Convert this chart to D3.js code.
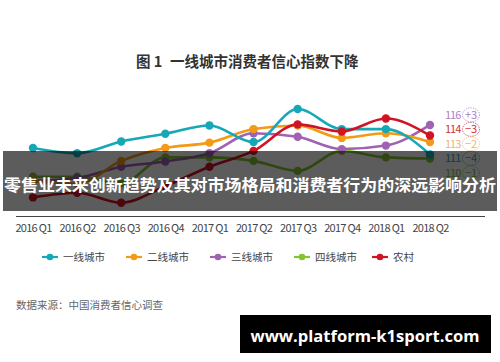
<!DOCTYPE html>
<html>
<head>
<meta charset="utf-8">
<script src="https://cdn.jsdelivr.net/npm/d3@7"></script>
<style>
  html, body { margin: 0; padding: 0; background: #fff; }
  svg { display: block; font-family: 'Noto Sans CJK SC', 'Noto Sans', sans-serif; }
</style>
</head>
<body>
<svg id="chart" width="500" height="362"></svg>
<script>
const width = 500
const height = 362

// quarters on the x axis
const quarters = ['2016 Q1', '2016 Q2', '2016 Q3', '2016 Q4', '2017 Q1', '2017 Q2', '2017 Q3', '2017 Q4', '2018 Q1', '2018 Q2']

// index values
const tier1 = [112.1, 111.2, 113.2, 114.5, 115.9, 113.1, 118.7, 115.3, 115.3, 111]
const tier2 = [106.5, 106, 109.9, 112.1, 113, 115.3, 115.9, 113.8, 114.6, 113.1]
const tier3 = [106.5, 107, 108.9, 109.8, 111.2, 114.6, 114, 111.9, 112.5, 116]
const tier4 = [107.2, 107.2, 106.1, 110.5, 110.5, 109.9, 108.2, 111.6, 110.5, 110.3]
const rural = [103.7, 104.5, 102.8, 105.6, 108.9, 111.6, 116.1, 114.9, 117.1, 114.2]

const seriesNames = ['一线城市', '二线城市', '三线城市', '四线城市', '农村']
const seriesColors = ['#17a8b8', '#f39a16', '#a062b2', '#86c232', '#cf1523']
const labelColors = ['#2ba9b8', '#f2b36a', '#ad80c6', '#86c232', '#d0323c']

// end-of-line labels (value, change)
const endValues = [111, 113, 116, 110, 114]
const endChanges = ['−4', '−2', '+3', '−1', '−3']

const seriesData = [tier1, tier2, tier3, tier4, rural]
const drawOrder = [3, 2, 1, 0, 4]

const svg = d3.select('#chart').attr('viewBox', [0, 0, width, height])

// --------------------------------------------------------------
// scales
const x = d3.scalePoint().domain(quarters).range([33, 430])
const y = d3.scaleLinear().domain([100, 120]).range([219.2, 101.4])

// title
const title = svg
  .append('text')
  .attr('y', 67)
  .attr('font-size', 14.5)
  .attr('font-weight', 'bold')
  .attr('fill', '#333')
title.append('tspan').attr('x', 136).text('图 1')
title.append('tspan').attr('x', 170).text('一线城市消费者信心指数下降')

// x axis
const xAxis = svg
  .append('g')
  .attr('transform', 'translate(0,216.5)')
  .call(d3.axisBottom(x).tickSize(0).tickPadding(8))

xAxis.select('.domain').attr('d', 'M16,0H485').attr('stroke', '#444').attr('stroke-width', 1)
xAxis
  .selectAll('text')
  .attr('font-family', "'Noto Sans CJK SC', sans-serif")
  .attr('font-size', 11)
  .attr('letter-spacing', -0.7)
  .attr('fill', '#444')

// --------------------------------------------------------------
// lines
const line = d3
  .line()
  .x((d, i) => x(quarters[i]))
  .y((d) => y(d))
  .curve(d3.curveMonotoneX)

drawOrder.forEach((k) => {
  const g = svg.append('g').attr('class', 'series')
  g.append('path')
    .attr('d', line(seriesData[k]))
    .attr('fill', 'none')
    .attr('stroke', seriesColors[k])
    .attr('stroke-width', 2.6)
  g.selectAll('circle')
    .data(seriesData[k])
    .join('circle')
    .attr('cx', (d, i) => x(quarters[i]))
    .attr('cy', (d) => y(d))
    .attr('r', 4.2)
    .attr('fill', seriesColors[k])
})

// end labels, spread out so they don't overlap
const order = d3.range(endValues.length).sort((a, b) => endValues[b] - endValues[a])
const meanY = d3.mean(order, (k) => y(endValues[k]))
const labels = svg.append('g').attr('class', 'endLabels')
order.forEach((k, j) => {
  const ly = meanY + (j - (order.length - 1) / 2) * 14.5
  labels
    .append('text')
    .attr('x', 445)
    .attr('y', ly + 4)
    .attr('font-size', 11)
    .attr('letter-spacing', -1)
    .attr('fill', labelColors[k])
    .text(endValues[k])
  labels
    .append('ellipse')
    .attr('cx', 471)
    .attr('cy', ly)
    .attr('rx', 8.5)
    .attr('ry', 7)
    .attr('fill', 'none')
    .attr('stroke', labelColors[k])
    .attr('stroke-width', 0.9)
    .attr('stroke-dasharray', '1.2 1.2')
  labels
    .append('text')
    .attr('x', 471)
    .attr('y', ly + 4)
    .attr('text-anchor', 'middle')
    .attr('font-size', 11)
    .attr('fill', labelColors[k])
    .text(endChanges[k])
})

// --------------------------------------------------------------
// overlay banner
svg
  .append('rect')
  .attr('x', 3)
  .attr('y', 151)
  .attr('width', 494)
  .attr('height', 60)
  .attr('fill', '#000')
  .attr('fill-opacity', 0.64)

svg
  .append('text')
  .attr('x', 250)
  .attr('y', 191)
  .attr('text-anchor', 'middle')
  .attr('font-size', 16.4)
  .attr('font-weight', 'bold')
  .attr('fill', '#fff')
  .attr('textLength', 492)
  .attr('lengthAdjust', 'spacingAndGlyphs')
  .text('零售业未来创新趋势及其对市场格局和消费者行为的深远影响分析')

// --------------------------------------------------------------
// legend
const legendX = [42, 126, 210, 294, 372]
const legend = svg
  .append('g')
  .selectAll('g')
  .data(seriesNames)
  .join('g')
  .attr('transform', (d, i) => `translate(${legendX[i]},257)`)

legend
  .append('line')
  .attr('x1', 0)
  .attr('x2', 16)
  .attr('stroke', (d, i) => seriesColors[i])
  .attr('stroke-width', 2.2)
legend
  .append('circle')
  .attr('cx', 8)
  .attr('r', 3.3)
  .attr('fill', (d, i) => seriesColors[i])
legend
  .append('text')
  .attr('x', 21)
  .attr('y', 4)
  .attr('font-size', 10.5)
  .attr('fill', '#444')
  .text((d) => d)

// source
svg
  .append('text')
  .attr('x', 16)
  .attr('y', 309)
  .attr('font-size', 10.5)
  .attr('fill', '#666')
  .text('数据来源：中国消费者信心调查')

// watermark box
svg
  .append('rect')
  .attr('x', 240)
  .attr('y', 315)
  .attr('width', 251)
  .attr('height', 38)
  .attr('fill', '#000')

svg
  .append('text')
  .attr('x', 365)
  .attr('y', 342)
  .attr('text-anchor', 'middle')
  .attr('font-family', "'Open Sans', 'DejaVu Sans', sans-serif")
  .attr('font-size', 16.5)
  .attr('font-weight', 'bold')
  .attr('fill', '#fff')
  .attr('textLength', 229)
  .attr('lengthAdjust', 'spacingAndGlyphs')
  .text('www.platform-k1sport.com')
</script>
</body>
</html>
